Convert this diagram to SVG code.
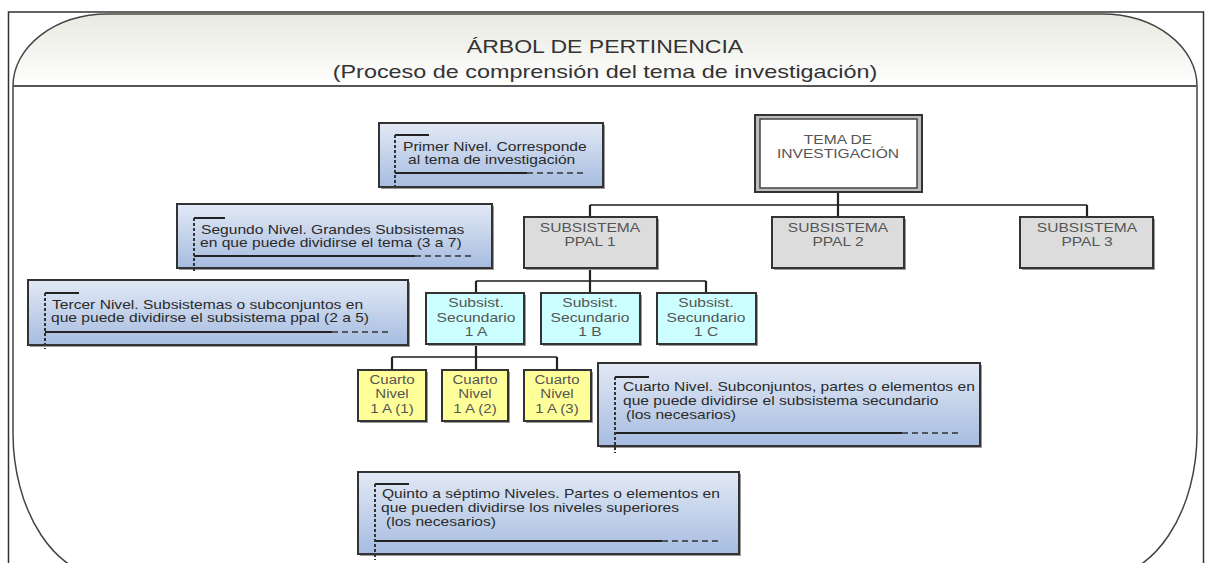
<svg xmlns="http://www.w3.org/2000/svg" width="1206" height="563" viewBox="0 0 1206 563">
<defs>
<linearGradient id="hdr" gradientUnits="userSpaceOnUse" x1="0" y1="14" x2="0" y2="86">
<stop offset="0" stop-color="#e8e9df"/>
<stop offset="1" stop-color="#ffffff"/>
</linearGradient>
<linearGradient id="note" x1="0" y1="0" x2="0" y2="1">
<stop offset="0" stop-color="#e2e9f5"/>
<stop offset="1" stop-color="#a6bce0"/>
</linearGradient>
<clipPath id="top"><rect x="0" y="0" width="1206" height="86"/></clipPath>
</defs>
<style>
text{font-family:"Liberation Sans",Arial,sans-serif;font-size:12px;}
.t{fill:#333;font-size:18px;}
.n{fill:#2a2a2a;}
.g{fill:#555;}
.c{text-anchor:middle;}
.note{fill:url(#note);stroke:#333;stroke-width:2;}
.sh{fill:#9a9a9a;}
.br{fill:none;stroke:#222;stroke-width:2;}
.brd{fill:none;stroke:#333;stroke-width:2;stroke-dasharray:3 2;}
.bd{fill:none;stroke:#333;stroke-width:1.6;stroke-dasharray:6 4;}
.ppal{fill:#dcdcdc;stroke:#333;stroke-width:2;}
.sec{fill:#ccffff;stroke:#333;stroke-width:2;}
.cua{fill:#ffff99;stroke:#333;stroke-width:2;}
.con{fill:none;stroke:#555;stroke-width:2.2;}
.stub{fill:none;stroke:#222;stroke-width:2.2;}
</style>
<rect x="0" y="0" width="1206" height="563" fill="#fff"/>
<g id="frame">
<rect x="8.5" y="12" width="1195" height="570" fill="none" stroke="#333" stroke-width="1.5"/>
<path d="M13,590 L13,86 A95,72 0 0 1 108,14 L1102,14 A95,72 0 0 1 1197,86 L1197,590" fill="url(#hdr)" clip-path="url(#top)"/>
<path d="M13,86 L1197,86 L1197,433 A97,145 0 0 1 1100,578 L110,578 A97,145 0 0 1 13,433 Z" fill="#fff"/>
<path d="M13,433 L13,86 A95,72 0 0 1 108,14 L1102,14 A95,72 0 0 1 1197,86 L1197,433 A97,145 0 0 1 1100,578 L110,578 A97,145 0 0 1 13,433 Z" fill="none" stroke="#444" stroke-width="1.5"/>
<line x1="13" y1="86" x2="1197" y2="86" stroke="#555" stroke-width="2"/>
<text class="t c" transform="translate(605 53) scale(1.28 1)">ÁRBOL DE PERTINENCIA</text>
<text class="t c" transform="translate(605 78) scale(1.3 1)">(Proceso de comprensión del tema de investigación)</text>
</g>
<g id="connectors">
<path class="con" d="M590,205 L1087,205"/>
<path class="stub" d="M838,192 L838,205 M590,205 L590,217 M838,205 L838,217 M1087,205 L1087,217"/>
<path class="con" d="M476,281 L706,281"/>
<path class="stub" d="M590,268 L590,293 M476,281 L476,293 M706,281 L706,293"/>
<path class="con" d="M392,357 L557,357"/>
<path class="stub" d="M476,344 L476,370 M392,357 L392,370 M557,357 L557,370"/>
</g>
<g id="note1">
<rect class="sh" x="381" y="125" width="224" height="64"/>
<rect class="note" x="379" y="123" width="224" height="64"/>
<path class="br" d="M395,135 L429,135 M395,173 L527,173"/>
<path class="brd" d="M395,135 L395,190"/>
<path class="bd" d="M527,173 L585,173"/>
<text class="n" transform="translate(403 151) scale(1.3 1)">Primer Nivel. Corresponde</text>
<text class="n" transform="translate(408 164) scale(1.3 1)">al tema de investigación</text>
</g>
<g id="note2">
<rect class="sh" x="179" y="206" width="315" height="64"/>
<rect class="note" x="177" y="204" width="315" height="64"/>
<path class="br" d="M194,218 L225,218 M194,256 L415,256"/>
<path class="brd" d="M194,218 L194,272"/>
<path class="bd" d="M415,256 L473,256"/>
<text class="n" transform="translate(201 234) scale(1.3 1)">Segundo Nivel. Grandes Subsistemas</text>
<text class="n" transform="translate(200 247) scale(1.3 1)">en que puede dividirse el tema (3 a 7)</text>
</g>
<g id="note3">
<rect class="sh" x="30" y="282" width="380" height="65"/>
<rect class="note" x="28" y="280" width="380" height="65"/>
<path class="br" d="M45,293 L79,293 M45,332 L332,332"/>
<path class="brd" d="M45,293 L45,349"/>
<path class="bd" d="M332,332 L390,332"/>
<text class="n" transform="translate(52 309) scale(1.3 1)">Tercer Nivel. Subsistemas o subconjuntos en</text>
<text class="n" transform="translate(51 322) scale(1.3 1)">que puede dividirse el subsistema ppal (2 a 5)</text>
</g>
<g id="note4">
<rect class="sh" x="600" y="365" width="382" height="83"/>
<rect class="note" x="598" y="363" width="382" height="83"/>
<path class="br" d="M615,377 L649,377 M615,433 L902,433"/>
<path class="brd" d="M615,377 L615,453"/>
<path class="bd" d="M902,433 L960,433"/>
<text class="n" transform="translate(623 391) scale(1.3 1)">Cuarto Nivel. Subconjuntos, partes o elementos en</text>
<text class="n" transform="translate(623 405) scale(1.3 1)">que puede dividirse el subsistema secundario</text>
<text class="n" transform="translate(626 419) scale(1.3 1)">(los necesarios)</text>
</g>
<g id="note5">
<rect class="sh" x="360" y="474" width="381" height="82"/>
<rect class="note" x="358" y="472" width="381" height="82"/>
<path class="br" d="M375,484 L409,484 M375,541 L662,541"/>
<path class="brd" d="M375,484 L375,560"/>
<path class="bd" d="M662,541 L720,541"/>
<text class="n" transform="translate(382 498) scale(1.3 1)">Quinto a séptimo Niveles. Partes o elementos en</text>
<text class="n" transform="translate(381 512) scale(1.3 1)">que pueden dividirse los niveles superiores</text>
<text class="n" transform="translate(386 526) scale(1.3 1)">(los necesarios)</text>
</g>
<g id="tema">
<rect x="755" y="115" width="167" height="77" fill="#bdbdbd" stroke="#333" stroke-width="2"/>
<rect x="760" y="119" width="157" height="69" fill="#fff" stroke="#444" stroke-width="1.5"/>
<text class="g c" transform="translate(838 144) scale(1.3 1)">TEMA DE</text>
<text class="g c" transform="translate(838 158) scale(1.3 1)">INVESTIGACIÓN</text>
</g>
<g id="ppal1">
<rect class="sh" x="526" y="219" width="133" height="51"/>
<rect class="ppal" x="524" y="217" width="133" height="51"/>
<text class="g c" transform="translate(590 232) scale(1.3 1)">SUBSISTEMA</text>
<text class="g c" transform="translate(590 246) scale(1.3 1)">PPAL 1</text>
</g>
<g id="ppal2">
<rect class="sh" x="774" y="219" width="132" height="51"/>
<rect class="ppal" x="772" y="217" width="132" height="51"/>
<text class="g c" transform="translate(838 232) scale(1.3 1)">SUBSISTEMA</text>
<text class="g c" transform="translate(838 246) scale(1.3 1)">PPAL 2</text>
</g>
<g id="ppal3">
<rect class="sh" x="1022" y="219" width="133" height="51"/>
<rect class="ppal" x="1020" y="217" width="133" height="51"/>
<text class="g c" transform="translate(1087 232) scale(1.3 1)">SUBSISTEMA</text>
<text class="g c" transform="translate(1087 246) scale(1.3 1)">PPAL 3</text>
</g>
<g id="sec1a">
<rect class="sh" x="428" y="295" width="98" height="51"/>
<rect class="sec" x="426" y="293" width="98" height="51"/>
<text class="g c" transform="translate(476 307) scale(1.3 1)">Subsist.</text>
<text class="g c" transform="translate(476 322) scale(1.3 1)">Secundario</text>
<text class="g c" transform="translate(476 336) scale(1.3 1)">1 A</text>
</g>
<g id="sec1b">
<rect class="sh" x="543" y="295" width="99" height="51"/>
<rect class="sec" x="541" y="293" width="99" height="51"/>
<text class="g c" transform="translate(590 307) scale(1.3 1)">Subsist.</text>
<text class="g c" transform="translate(590 322) scale(1.3 1)">Secundario</text>
<text class="g c" transform="translate(590 336) scale(1.3 1)">1 B</text>
</g>
<g id="sec1c">
<rect class="sh" x="659" y="295" width="99" height="51"/>
<rect class="sec" x="657" y="293" width="99" height="51"/>
<text class="g c" transform="translate(706 307) scale(1.3 1)">Subsist.</text>
<text class="g c" transform="translate(706 322) scale(1.3 1)">Secundario</text>
<text class="g c" transform="translate(706 336) scale(1.3 1)">1 C</text>
</g>
<g id="cuarto1">
<rect class="sh" x="360" y="372" width="68" height="51"/>
<rect class="cua" x="358" y="370" width="68" height="51"/>
<text class="g c" transform="translate(392 384) scale(1.25 1)">Cuarto</text>
<text class="g c" transform="translate(392 398) scale(1.25 1)">Nivel</text>
<text class="g c" transform="translate(392 413) scale(1.25 1)">1 A (1)</text>
</g>
<g id="cuarto2">
<rect class="sh" x="444" y="372" width="66" height="51"/>
<rect class="cua" x="442" y="370" width="66" height="51"/>
<text class="g c" transform="translate(475 384) scale(1.25 1)">Cuarto</text>
<text class="g c" transform="translate(475 398) scale(1.25 1)">Nivel</text>
<text class="g c" transform="translate(475 413) scale(1.25 1)">1 A (2)</text>
</g>
<g id="cuarto3">
<rect class="sh" x="526" y="372" width="67" height="51"/>
<rect class="cua" x="524" y="370" width="67" height="51"/>
<text class="g c" transform="translate(557 384) scale(1.25 1)">Cuarto</text>
<text class="g c" transform="translate(557 398) scale(1.25 1)">Nivel</text>
<text class="g c" transform="translate(557 413) scale(1.25 1)">1 A (3)</text>
</g>
</svg>
